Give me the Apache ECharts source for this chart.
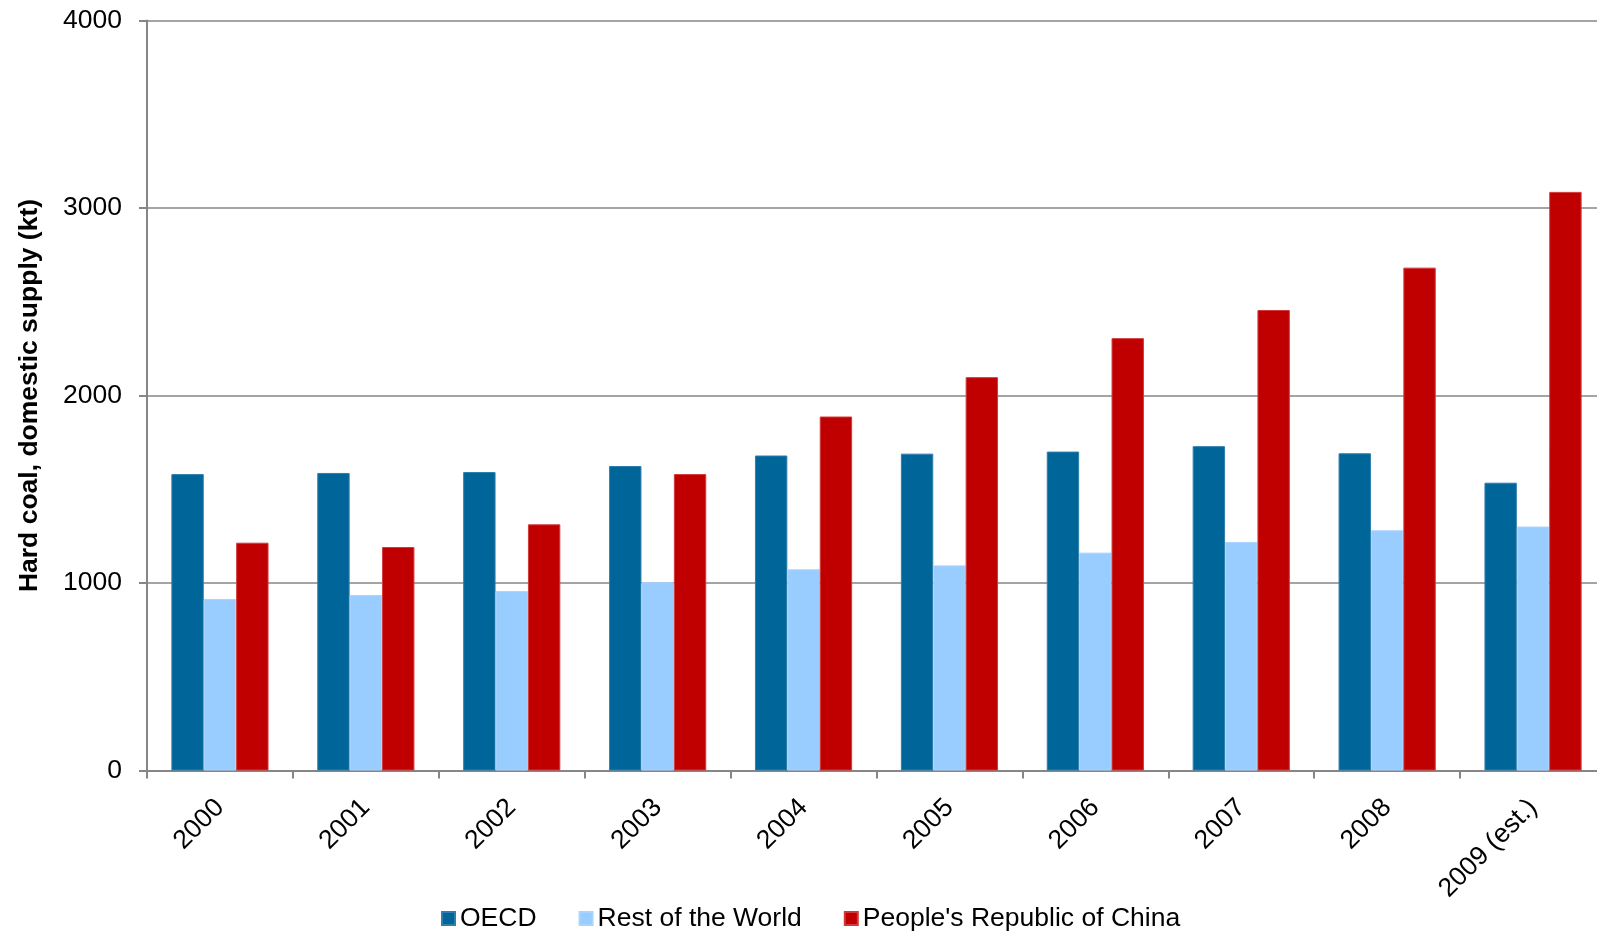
<!DOCTYPE html>
<html>
<head>
<meta charset="utf-8">
<script src="https://cdn.jsdelivr.net/npm/echarts@6/dist/echarts.min.js"></script>
<style>
  html, body { margin: 0; padding: 0; background: #ffffff; }
  #chart { width: 1597px; height: 934px; }
</style>
</head>
<body>
<div id="chart"></div>
<script>
// Hard coal domestic supply by region, kt
const years = ['2000', '2001', '2002', '2003', '2004', '2005', '2006', '2007', '2008', '2009 (est.)'];
const oecd = [1581, 1587, 1592, 1624, 1680, 1690, 1701, 1730, 1692, 1535];
const restOfWorld = [915, 936, 957, 1004, 1073, 1094, 1162, 1219, 1281, 1301];
const china = [1215, 1192, 1313, 1581, 1888, 2098, 2306, 2456, 2682, 3086];
const yTicks = { min: 0, max: 4000, interval: 1000 };

const FONT = '"Liberation Sans", Arial, sans-serif';
const FONT_SIZE = 26.5;
const AXIS_GRAY = '#868686';

const chart = echarts.init(document.getElementById('chart'), null, { renderer: 'canvas' });

chart.setOption({
  animation: false,
  backgroundColor: '#ffffff',
  textStyle: { fontFamily: FONT },
  grid: {
    left: 147, top: 20.5, width: 1459, height: 750,
    containLabel: false, outerBoundsMode: 'none'
  },
  legend: {
    left: 436,
    top: 900,
    itemWidth: 13,
    itemHeight: 13,
    itemGap: 42,
    icon: 'rect',
    textStyle: { fontFamily: FONT, fontSize: FONT_SIZE, color: '#000000', padding: [0, 0, 0, 0] },
    data: ['OECD', 'Rest of the World', "People's Republic of China"]
  },
  xAxis: {
    type: 'category',
    data: years,
    axisLine: { lineStyle: { color: AXIS_GRAY, width: 2 } },
    axisTick: { show: true, length: 8, interval: 0, lineStyle: { color: AXIS_GRAY, width: 2 } },
    axisLabel: {
      interval: 0,
      rotate: 45,
      margin: 33,
      fontFamily: FONT,
      fontSize: FONT_SIZE,
      color: '#000000'
    }
  },
  yAxis: {
    type: 'value',
    min: yTicks.min,
    max: yTicks.max,
    interval: yTicks.interval,
    name: 'Hard coal, domestic supply (kt)',
    nameLocation: 'middle',
    nameGap: 104,
    nameTextStyle: { fontFamily: FONT, fontSize: FONT_SIZE, fontWeight: 'bold', color: '#000000' },
    axisLine: { show: true, lineStyle: { color: AXIS_GRAY, width: 2 } },
    axisTick: { show: true, length: 8, lineStyle: { color: AXIS_GRAY, width: 2 } },
    axisLabel: {
      margin: 25,
      fontFamily: FONT,
      fontSize: FONT_SIZE,
      color: '#000000',
      formatter: (v) => String(v)
    },
    splitLine: { show: true, lineStyle: { color: AXIS_GRAY, width: 1.5 } }
  },
  series: [
    {
      name: 'OECD',
      type: 'bar',
      data: oecd,
      barGap: '0%',
      barCategoryGap: '33.4%',
      itemStyle: { color: '#006699', borderColor: '#2f7fad', borderWidth: 1 }
    },
    {
      name: 'Rest of the World',
      type: 'bar',
      data: restOfWorld,
      barGap: '0%',
      barCategoryGap: '33.4%',
      itemStyle: { color: '#99CCFF', borderColor: '#a9d4ff', borderWidth: 1 }
    },
    {
      name: "People's Republic of China",
      type: 'bar',
      data: china,
      barGap: '0%',
      barCategoryGap: '33.4%',
      itemStyle: { color: '#C00000', borderColor: '#d23a3a', borderWidth: 1 }
    }
  ]
});
</script>
</body>
</html>
